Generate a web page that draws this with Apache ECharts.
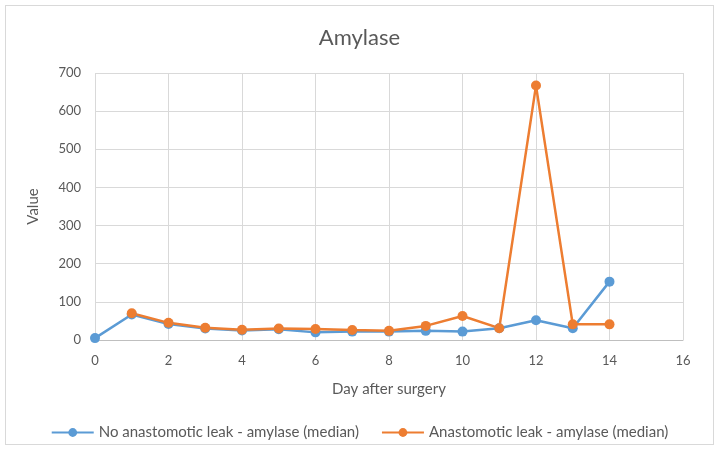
<!DOCTYPE html>
<html>
<head>
<meta charset="utf-8">
<script src="https://cdn.jsdelivr.net/npm/echarts@6/dist/echarts.min.js"></script>
<style>
  html, body { margin: 0; padding: 0; background: #fff; }
  #frame { position: absolute; left: 5px; top: 5px; width: 707px; height: 438px; border: 1px solid #d9d9d9; }
  #chart { position: absolute; left: 0; top: 0; width: 719px; height: 450px; }
</style>
</head>
<body>
<div id="frame"></div>
<div id="chart"></div>
<script>
// 术后天数
const days = [0, 1, 2, 3, 4, 5, 6, 7, 8, 9, 10, 11, 12, 13, 14];
// 无吻合口瘘 - 淀粉酶中位数
const noLeak = [5, 67, 42, 30, 25, 28, 20, 22, 22, 24, 22, 31, 52, 31, 153];
// 吻合口瘘 - 淀粉酶中位数 (从第1天开始)
const leakDays = [1, 2, 3, 4, 5, 6, 7, 8, 9, 10, 11, 12, 13, 14];
const leak = [70, 45, 32, 27, 30, 29, 26, 24, 37, 63, 31, 667, 41, 41];

const seriesNames = ['No anastomotic leak - amylase (median)', 'Anastomotic leak - amylase (median)'];
const colors = ['#5b9bd5', '#ed7d31'];

const font = 'Lato, "Open Sans", sans-serif';
const textColor = '#595959';

let myChart = echarts.init(document.getElementById('chart'));
let option = {
  animation: false,
  color: colors,
  title: {
    text: 'Amylase',
    left: 'center',
    top: 22,
    textStyle: { fontFamily: font, fontSize: 22, fontWeight: 'normal', color: textColor }
  },
  legend: {
    bottom: 5,
    itemWidth: 42,
    itemHeight: 11,
    itemGap: 22,
    textStyle: { fontFamily: font, fontSize: 15, color: textColor },
    data: seriesNames
  },
  grid: { left: 95, right: 36, top: 73, bottom: 110 },
  xAxis: {
    type: 'value',
    min: 0,
    max: 16,
    interval: 2,
    name: 'Day after surgery',
    nameLocation: 'middle',
    nameGap: 42,
    nameTextStyle: { fontFamily: font, fontSize: 15, color: textColor },
    axisLine: { show: true, lineStyle: { color: '#bfbfbf' } },
    axisTick: { show: false },
    axisLabel: { fontFamily: font, fontSize: 13, color: textColor, margin: 14 },
    splitLine: { show: true, lineStyle: { color: '#d9d9d9', width: 1 } }
  },
  yAxis: {
    type: 'value',
    min: 0,
    max: 700,
    interval: 100,
    name: 'Value',
    nameLocation: 'middle',
    nameGap: 54,
    nameTextStyle: { fontFamily: font, fontSize: 15, color: textColor },
    axisLine: { show: false },
    axisTick: { show: false },
    axisLabel: { fontFamily: font, fontSize: 13, color: textColor, margin: 14 },
    splitLine: { show: true, lineStyle: { color: '#d9d9d9', width: 1 } }
  },
  series: [
    {
      name: seriesNames[0],
      type: 'line',
      symbol: 'circle',
      symbolSize: 10,
      lineStyle: { width: 2.5 },
      data: days.map((d, i) => [d, noLeak[i]])
    },
    {
      name: seriesNames[1],
      type: 'line',
      symbol: 'circle',
      symbolSize: 10,
      lineStyle: { width: 2.5 },
      data: leakDays.map((d, i) => [d, leak[i]])
    }
  ]
};
myChart.setOption(option);
</script>
</body>
</html>
